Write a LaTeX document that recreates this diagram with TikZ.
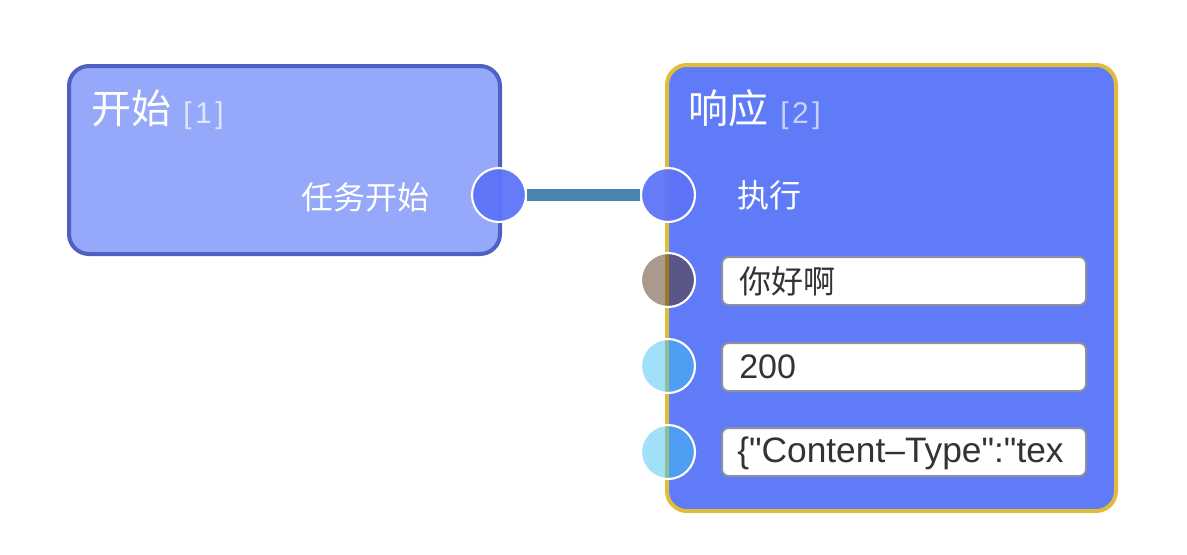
\documentclass[tikz,border=0pt]{standalone}
\usepackage{fontspec}
\setmainfont{Noto Sans CJK SC}
\newfontfamily\latinf{Liberation Sans}
\newfontfamily\latinwide[LetterSpace=12]{Liberation Sans}
\definecolor{lfill}{HTML}{96A8FA}
\definecolor{lborder}{HTML}{5060C0}
\definecolor{rfill}{HTML}{5F7BF8}
\definecolor{rborder}{HTML}{E0BC3A}
\definecolor{wire}{HTML}{4A84B0}
\definecolor{sockA}{HTML}{5E74F8}
\definecolor{sockB}{HTML}{57351A}
\definecolor{sockC}{HTML}{41C1F1}
\definecolor{fieldborder}{HTML}{8C90A0}
\definecolor{fieldtext}{HTML}{333333}
\tikzset{
  x=0.75pt, y=-0.75pt,
  sock/.style={circle, minimum size=40.5pt, inner sep=0pt, draw=white, line width=1.6pt},
  field/.style={draw=fieldborder, line width=1.5pt, fill=white, rounded corners=5pt},
  title/.style={text=white, font=\fontsize{30pt}{32pt}\selectfont, anchor=west, inner sep=0pt},
  lbl/.style={text=white, font=\fontsize{24pt}{26pt}\selectfont, inner sep=0pt},
  ftext/.style={text=fieldtext, font=\fontsize{24pt}{26pt}\selectfont, anchor=west, inner sep=0pt},
}
\newcommand{\idx}[2]{{\latinwide\fontsize{22.5pt}{24pt}\selectfont\textcolor{#2}{#1}}}
\begin{document}
\begin{tikzpicture}
\useasboundingbox (0,0) rectangle (1187,554);
% left node
\draw[fill=lfill, draw=lborder, line width=3pt, rounded corners=15pt] (69,66) rectangle (500,254);
\node[title] (t1) at (91,110) {开始\hspace{9pt}\idx{[1]}{white!70!lfill}};
\node[lbl, anchor=east] (l1) at (430,197) {任务开始};
% right node
\draw[fill=rfill, draw=rborder, line width=3pt, rounded corners=15pt] (667,65) rectangle (1116,511);
\node[title] (t2) at (688,110) {响应\hspace{9pt}\idx{[2]}{white!65!rfill}};
\node[lbl, anchor=west] (l2) at (737,195) {执行};
% fields
\draw[field] (722,257) rectangle (1086,305);
\draw[field] (722,343) rectangle (1086,391);
\draw[field] (722,428) rectangle (1086,476);
\node[ftext] (f1) at (739,281) {你好啊};
\node[ftext, font=\latinf\fontsize{25.5pt}{27pt}\selectfont] (f2) at (739,367) {200};
\node[ftext, font=\latinf\fontsize{26.5pt}{28pt}\selectfont] (f3) at (737,453) {\{"Content–Type":"tex};
% sockets
\node[sock, fill=sockA, fill opacity=0.95] (s0) at (499,195) {};
\node[sock, fill=sockA, fill opacity=0.95] (s1) at (668,195) {};
\node[sock, fill=sockB, fill opacity=0.5] (s2) at (668,280) {};
\node[sock, fill=sockC, fill opacity=0.5] (s3) at (668,366) {};
\node[sock, fill=sockC, fill opacity=0.5] (s4) at (668,452) {};
% wire
\draw[wire, line width=8.5pt] (s0.east) -- (s1.west);
\end{tikzpicture}
\end{document}
